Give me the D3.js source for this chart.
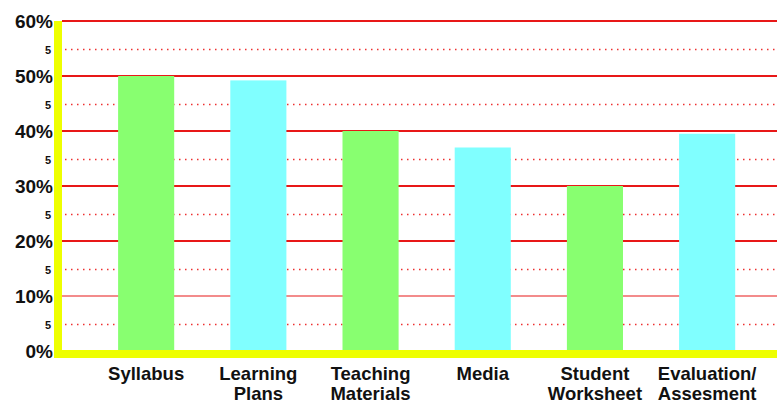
<!DOCTYPE html>
<html>
<head>
<meta charset="utf-8">
<script src="https://cdn.jsdelivr.net/npm/d3@7"></script>
<style>
  body { margin: 0; background: #fff; }
  text { font-family: "Liberation Sans", Arial, sans-serif; font-weight: bold; fill: #111; }
</style>
</head>
<body>
<script>
// data
const categories = [["Syllabus"], ["Learning", "Plans"], ["Teaching", "Materials"], ["Media"], ["Student", "Worksheet"], ["Evaluation/", "Assesment"]];
const values = [50, 49.2, 40, 37, 30, 39.5];
const barColors = ["#88ff70", "#80ffff", "#88ff70", "#80ffff", "#88ff70", "#80ffff"];
const majorTicks = [0, 10, 20, 30, 40, 50, 60];
const minorTicks = [5, 15, 25, 35, 45, 55];

const width = 777, height = 406;
const plotLeft = 62, plotTop = 21, plotBottom = 351;

const svg = d3.select("body").append("svg")
  .attr("width", width)
  .attr("height", height);

const x = d3.scaleBand()
  .domain(d3.range(categories.length))
  .range([plotLeft, plotLeft + 112.2 * 6.5])
  .paddingInner(0.5)
  .paddingOuter(0.5);

const y = d3.scaleLinear().domain([0, 60]).range([plotBottom, plotTop]);

// dotted minor lines
svg.selectAll(".minor").data(minorTicks).enter().append("line")
  .attr("x1", plotLeft + 3).attr("x2", width)
  .attr("y1", d => y(d) + 1).attr("y2", d => y(d) + 1)
  .attr("stroke", "#ee3030")
  .attr("stroke-width", 1.5)
  .attr("stroke-dasharray", "1.5,4.5");

// solid major lines
svg.selectAll(".major").data(majorTicks.filter(d => d > 0)).enter().append("line")
  .attr("x1", plotLeft).attr("x2", width)
  .attr("y1", d => y(d)).attr("y2", d => y(d))
  .attr("stroke", "#e81818")
  .attr("stroke-width", d => d === 10 ? 1.2 : 2);

// bars
svg.selectAll(".bar").data(values).enter().append("rect")
  .attr("x", (d, i) => x(i))
  .attr("width", x.bandwidth())
  .attr("y", d => y(d))
  .attr("height", d => y(0) - y(d))
  .attr("fill", (d, i) => barColors[i]);

// yellow axes
svg.append("rect").attr("x", 54).attr("y", plotTop).attr("width", 8).attr("height", 358 - plotTop).attr("fill", "#eeff00");
svg.append("rect").attr("x", 54).attr("y", 350).attr("width", width - 54).attr("height", 8).attr("fill", "#eeff00");

// y labels
svg.selectAll(".ylab").data(majorTicks).enter().append("text")
  .attr("x", 53).attr("y", d => y(d) + 7)
  .attr("text-anchor", "end")
  .style("font-size", "19px")
  .text(d => d + "%");

svg.selectAll(".ylab5").data(minorTicks).enter().append("text")
  .attr("x", 51).attr("y", d => y(d) + 5)
  .attr("text-anchor", "end")
  .style("font-size", "11px")
  .text("5");

// x labels
const xl = svg.selectAll(".xlab").data(categories).enter().append("text")
  .attr("text-anchor", "middle")
  .style("font-size", "18.5px");
xl.selectAll("tspan").data((d, i) => d.map(t => ({ t, i }))).enter().append("tspan")
  .attr("x", d => x(d.i) + x.bandwidth() / 2)
  .attr("y", (d, j) => 380 + j * 20)
  .text(d => d.t);
</script>
</body>
</html>
